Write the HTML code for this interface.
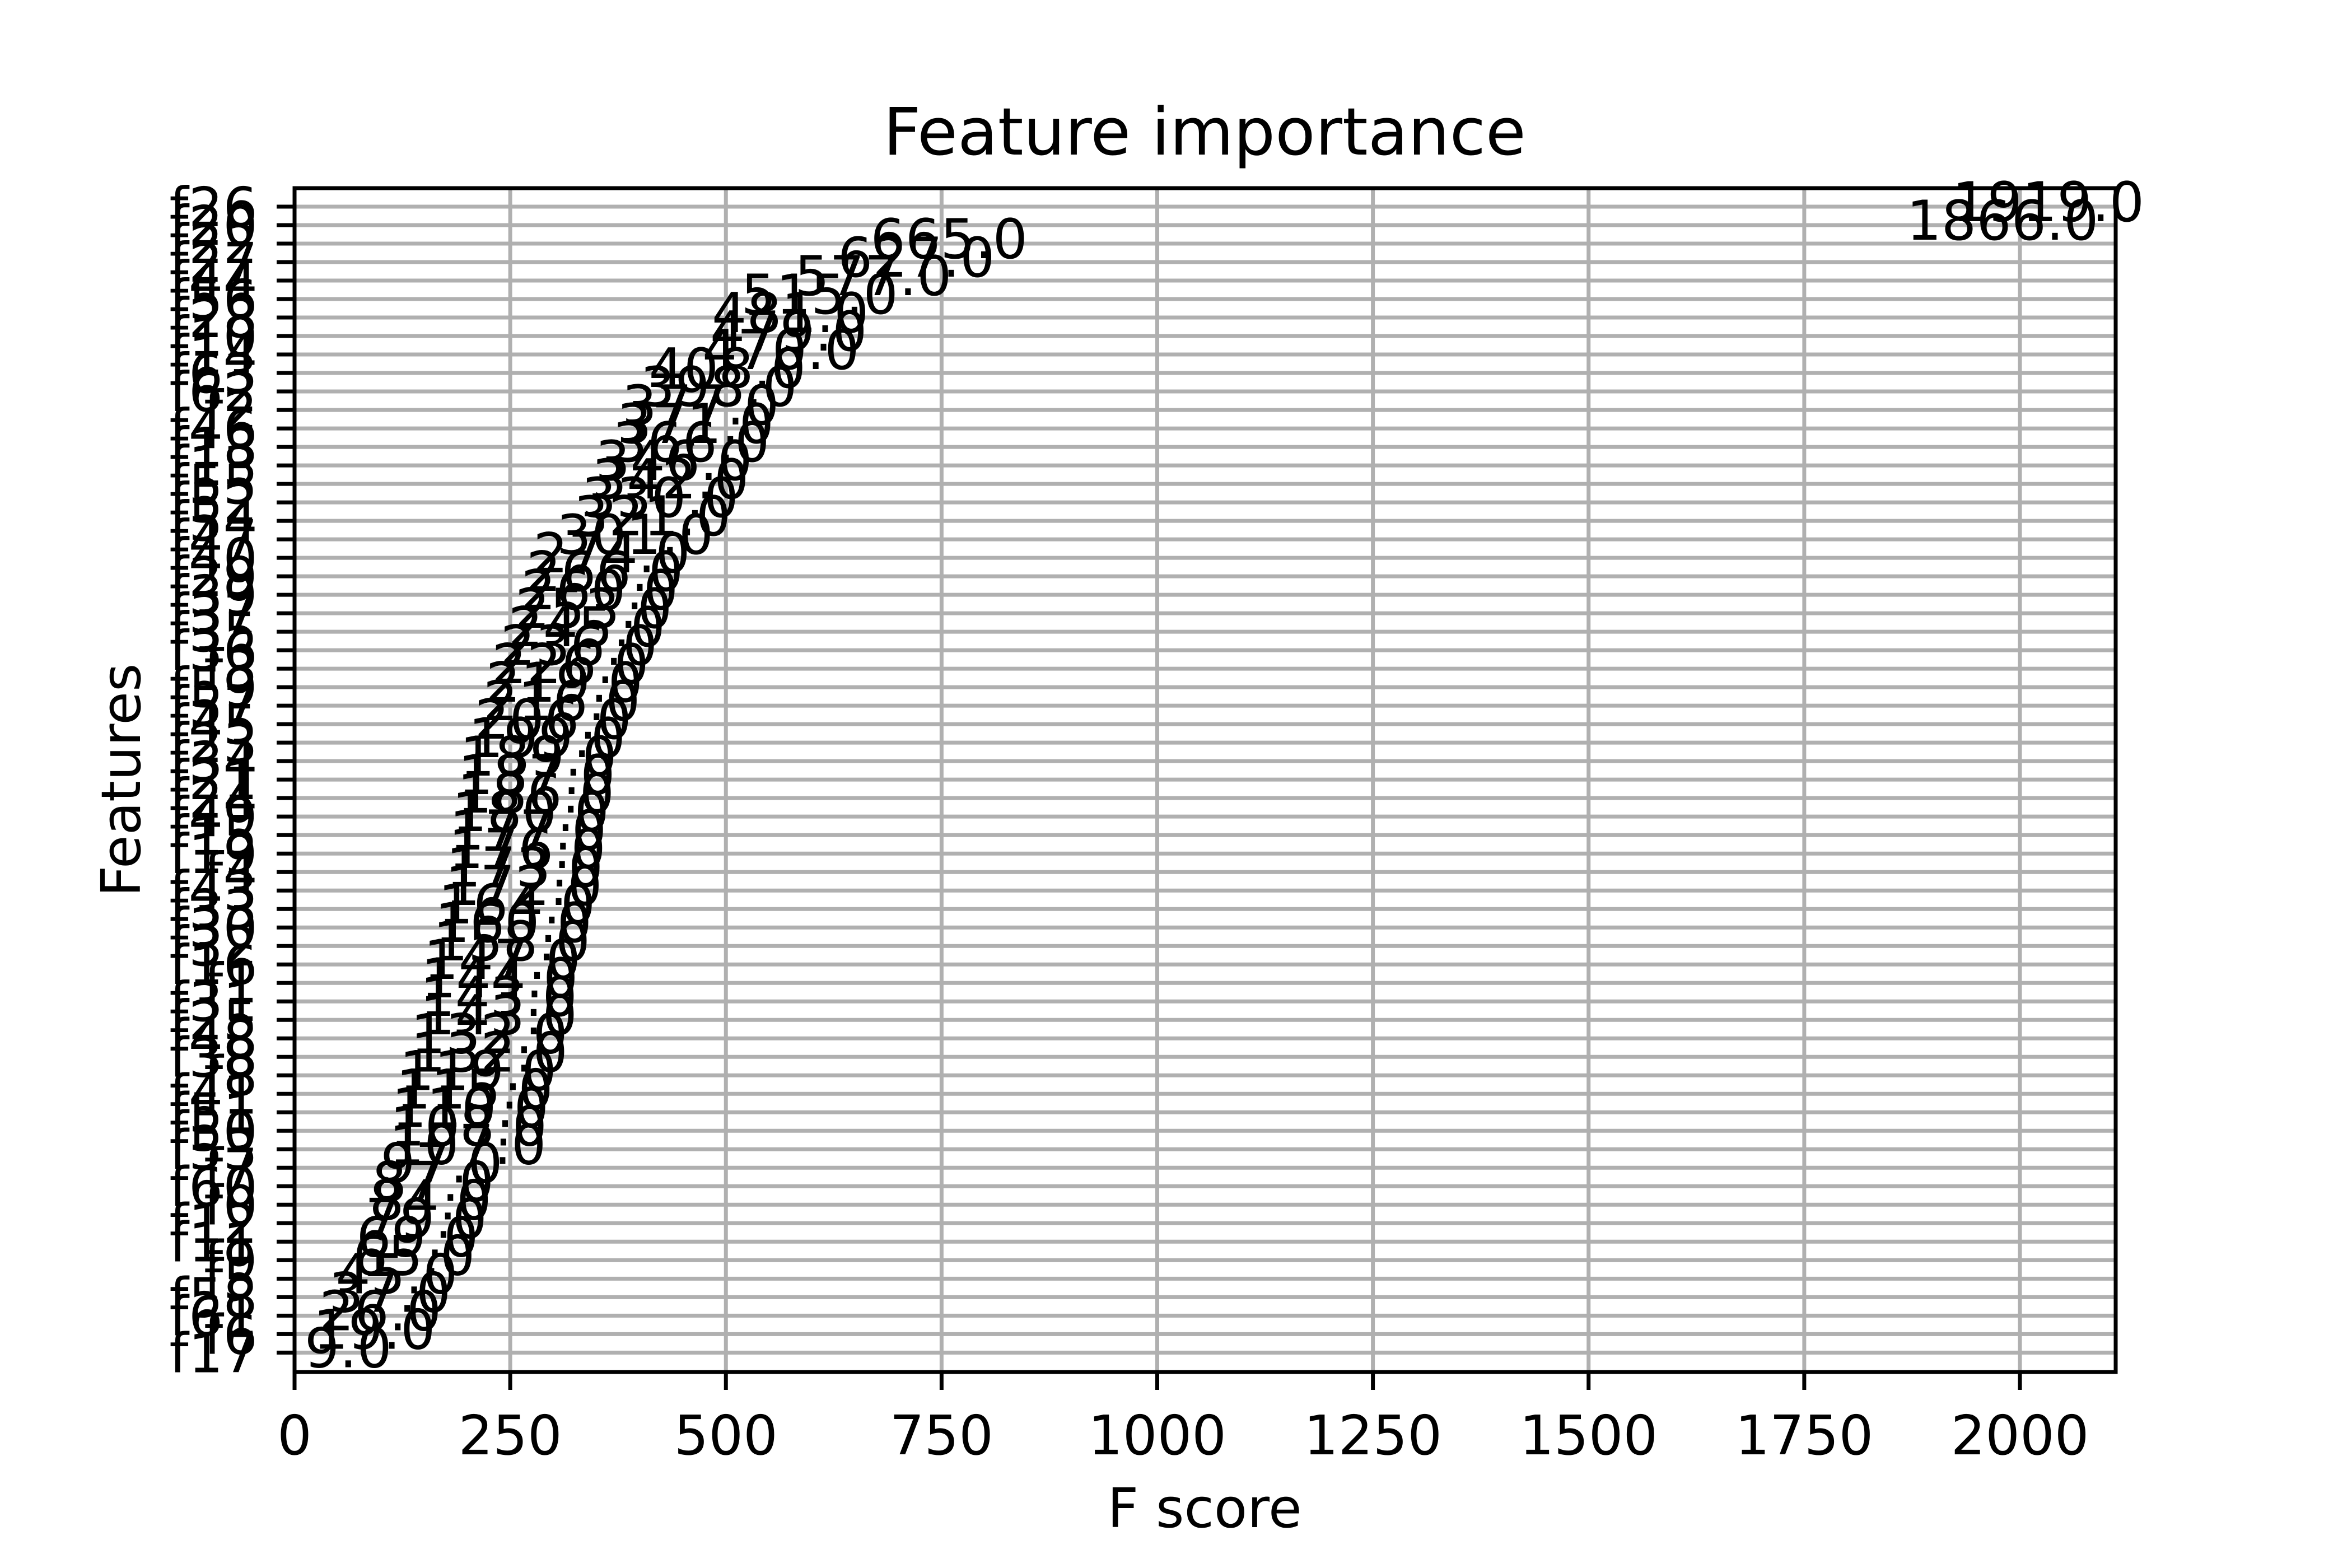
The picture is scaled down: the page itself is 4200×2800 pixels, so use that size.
<!DOCTYPE html>
<html><head><meta charset="utf-8"><title>Feature importance</title>
<style>html,body{margin:0;padding:0;background:#fff;}svg{display:block;font-family:"DejaVu Sans","Liberation Sans",sans-serif;}</style>
</head><body>
<svg id="chart" width="4200" height="2800" viewBox="0 0 4200 2800" xmlns="http://www.w3.org/2000/svg">
<rect x="0" y="0" width="4200" height="2800" fill="#fff"/>
<g id="grid"></g>
<g id="bars"></g>
<g id="labels"></g>
<g id="axes"></g>
<text x="2151" y="276" font-size="117" text-anchor="middle">Feature importance</text>
<text x="2151" y="2727" font-size="97" text-anchor="middle">F score</text>
<text x="0" y="0" font-size="97" text-anchor="middle" transform="translate(250,1393) rotate(-90)">Features</text>
</svg>
<script>
const features = ["f26","f20","f22","f27","f44","f56","f28","f10","f14","f63","f62","f2","f46","f18","f13","f55","f52","f54","f47","f40","f29","f39","f37","f35","f36","f3","f59","f57","f45","f23","f34","f21","f24","f49","f15","f19","f4","f43","f33","f30","f32","f16","f1","f31","f25","f48","f38","f8","f41","f51","f50","f53","f7","f60","f0","f12","f11","f9","f5","f58","f61","f6","f17"];
const scores = [1919,1866,665,627,577,515,481,479,470,408,398,377,371,366,346,342,330,321,301,274,266,260,253,245,236,226,219,216,206,199,189,187,186,180,177,176,173,172,164,160,158,147,144,143,143,132,132,119,115,110,108,107,97,87,84,79,69,65,45,37,26,19,9];
const xTicks = [0,250,500,750,1000,1250,1500,1750,2000];

const NS = "http://www.w3.org/2000/svg";
const L = 526, R = 3778, T = 336, B = 2450;
const X0 = 0, X1 = 2111;
const n = features.length;
const Y0 = -1.05, Y1 = n;
function xScale(v){ return L + (v - X0) / (X1 - X0) * (R - L); }
function yScale(k){ return T + (Y1 - k) / (Y1 - Y0) * (B - T); }
function mk(tag, attrs, parent){ const e = document.createElementNS(NS, tag); for (const k in attrs) e.setAttribute(k, attrs[k]); parent.appendChild(e); return e; }

const grid = document.getElementById('grid');
const bars = document.getElementById('bars');
const labels = document.getElementById('labels');
const axes = document.getElementById('axes');

xTicks.forEach(t => {
  const x = xScale(t);
  const g = mk('line', {x1:x, x2:x, y1:T, y2:B, stroke:'#b0b0b0', 'stroke-width':7}, grid);
  
  
  const tk = mk('line', {x1:x, x2:x, y1:B, y2:B+32, stroke:'#000', 'stroke-width':7}, axes);
  
  
  const tl = mk('text', {x:x, y:2597, 'font-size':97, 'text-anchor':'middle'}, axes);
  tl.textContent = String(t);
  
  
});

features.forEach((f, i) => {
  const k = n - 1 - i;
  const y = yScale(k);
  const g = mk('line', {x1:L, x2:R, y1:y, y2:y, stroke:'#b0b0b0', 'stroke-width':7}, grid);
  
  
  const bh = 0.2 * (B - T) / (Y1 - Y0);
  const bar = mk('rect', {x:xScale(0), y:y - bh/2, width:xScale(scores[i]) - xScale(0), height:bh, fill:'#b0b0b0'}, bars);
  
  
  const tk = mk('line', {x1:L - 32, x2:L, y1:y, y2:y, stroke:'#000', 'stroke-width':7}, axes);
  
  
  const tl = mk('text', {x:460, y:y + 35, 'font-size':97, 'text-anchor':'end'}, axes);
  tl.textContent = f;
  
  
  const vl = mk('text', {x:xScale(scores[i]) + 4, y:y + 26, 'font-size':98}, labels);
  vl.textContent = scores[i].toFixed(1);
  
  
});

const frame = mk('rect', {x:L, y:T, width:R - L, height:B - T, fill:'none', stroke:'#000', 'stroke-width':7}, axes);


</script>
</body></html>
